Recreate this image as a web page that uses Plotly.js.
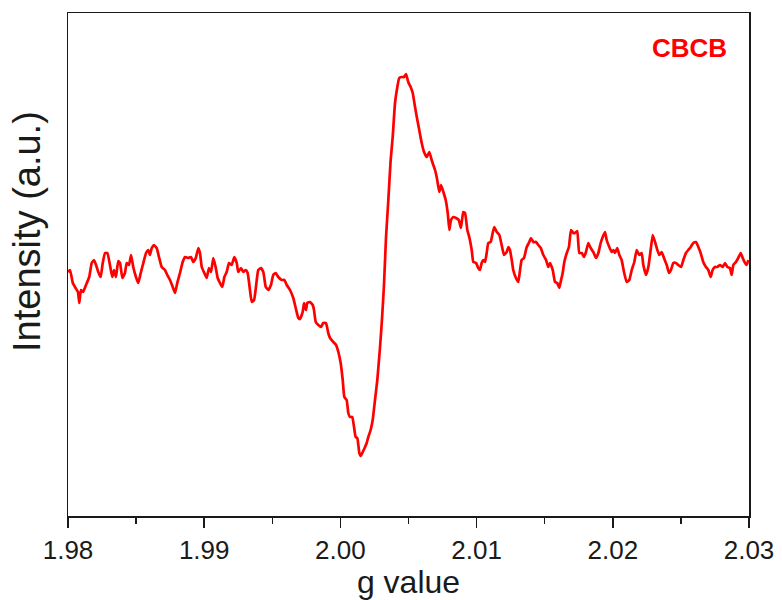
<!DOCTYPE html>
<html>
<head>
<meta charset="utf-8">
<script src="https://cdn.plot.ly/plotly-3.0.1.min.js"></script>
<style>
  html, body { margin: 0; padding: 0; background: #ffffff; }
  #chart { width: 782px; height: 600px; }
</style>
</head>
<body>
<div id="chart"></div>
<script>
// EPR spectrum of the CBCB sample: intensity (arbitrary units) against g value
const sampleName = "CBCB";

const gValues = [
  1.98000, 1.98015, 1.98035, 1.98051, 1.98073, 1.98083, 1.98095, 1.98110, 1.98132, 1.98156,
  1.98174, 1.98191, 1.98206, 1.98222, 1.98240, 1.98255, 1.98272, 1.98289, 1.98308, 1.98325,
  1.98338, 1.98352, 1.98369, 1.98382, 1.98399, 1.98418, 1.98431, 1.98448, 1.98463, 1.98479,
  1.98499, 1.98516, 1.98534, 1.98553, 1.98573, 1.98590, 1.98602, 1.98615, 1.98631, 1.98651,
  1.98668, 1.98688, 1.98712, 1.98729, 1.98749, 1.98769, 1.98786, 1.98802, 1.98822, 1.98842,
  1.98859, 1.98883, 1.98903, 1.98920, 1.98938, 1.98957, 1.98969, 1.98982, 1.99001, 1.99018,
  1.99035, 1.99050, 1.99067, 1.99084, 1.99099, 1.99116, 1.99133, 1.99148, 1.99165, 1.99182,
  1.99202, 1.99221, 1.99239, 1.99250, 1.99270, 1.99287, 1.99305, 1.99319, 1.99336, 1.99349,
  1.99366, 1.99380, 1.99397, 1.99417, 1.99434, 1.99452, 1.99471, 1.99490, 1.99507, 1.99525,
  1.99544, 1.99569, 1.99588, 1.99606, 1.99630, 1.99654, 1.99672, 1.99691, 1.99703, 1.99723,
  1.99733, 1.99747, 1.99757, 1.99777, 1.99797, 1.99806, 1.99819, 1.99838, 1.99858, 1.99874,
  1.99894, 1.99911, 1.99924, 1.99948, 1.99968, 1.99985, 2.00002, 2.00017, 2.00029, 2.00046,
  2.00058, 2.00070, 2.00087, 2.00100, 2.00112, 2.00124, 2.00139, 2.00149, 2.00164, 2.00181,
  2.00193, 2.00205, 2.00222, 2.00237, 2.00254, 2.00271, 2.00291, 2.00305, 2.00320, 2.00335,
  2.00352, 2.00369, 2.00384, 2.00401, 2.00418, 2.00432, 2.00450, 2.00467, 2.00482, 2.00498,
  2.00516, 2.00531, 2.00548, 2.00565, 2.00579, 2.00597, 2.00614, 2.00634, 2.00653, 2.00670,
  2.00682, 2.00695, 2.00711, 2.00726, 2.00739, 2.00756, 2.00773, 2.00788, 2.00800, 2.00812,
  2.00829, 2.00849, 2.00869, 2.00885, 2.00902, 2.00915, 2.00932, 2.00946, 2.00964, 2.00976,
  2.00996, 2.01012, 2.01025, 2.01037, 2.01049, 2.01062, 2.01074, 2.01086, 2.01103, 2.01118,
  2.01130, 2.01148, 2.01167, 2.01184, 2.01201, 2.01221, 2.01233, 2.01245, 2.01258, 2.01269,
  2.01289, 2.01306, 2.01319, 2.01331, 2.01348, 2.01368, 2.01387, 2.01399, 2.01416, 2.01436,
  2.01453, 2.01471, 2.01490, 2.01510, 2.01526, 2.01539, 2.01559, 2.01576, 2.01592, 2.01607,
  2.01617, 2.01632, 2.01644, 2.01662, 2.01678, 2.01693, 2.01710, 2.01722, 2.01739, 2.01754,
  2.01772, 2.01789, 2.01803, 2.01820, 2.01838, 2.01857, 2.01877, 2.01894, 2.01911, 2.01926,
  2.01943, 2.01955, 2.01974, 2.01992, 2.02004, 2.02016, 2.02033, 2.02048, 2.02065, 2.02082,
  2.02102, 2.02121, 2.02139, 2.02158, 2.02175, 2.02195, 2.02212, 2.02224, 2.02244, 2.02261,
  2.02278, 2.02293, 2.02310, 2.02327, 2.02341, 2.02359, 2.02376, 2.02396, 2.02413, 2.02427,
  2.02444, 2.02464, 2.02481, 2.02501, 2.02518, 2.02537, 2.02554, 2.02572, 2.02591, 2.02611,
  2.02628, 2.02645, 2.02664, 2.02684, 2.02701, 2.02719, 2.02733, 2.02750, 2.02767, 2.02787,
  2.02807, 2.02824, 2.02841, 2.02860, 2.02873, 2.02885, 2.02904, 2.02921, 2.02939, 2.02954,
  2.02971, 2.02983, 2.02995
];

const intensity = [
   -7,  -5, -18, -22, -27, -38, -25, -27, -20, -12,
    2,   5,   0,  -7, -12,   2,  12,  12,   0, -12,
   -5, -12,   4,   2, -13,  -8,   2,   0,  10,  -2,
  -12, -18,  -8,   2,  12,  15,  10,  17,  20,  17,
    8,  -2,  -5, -10, -15, -22, -28, -18,  -8,   3,
    8,   7,   8,   3,   7,  17,  12,  -2,  -8, -13,
   -3,  -7,   7,  -2, -13, -18, -22, -12,  -7,   2,
    0,   8,   2,  -7,  -3,  -7,  -5,  -8, -25, -37,
  -35, -22,  -5,  -3,  -7, -22, -25, -20, -10,  -8,
  -12, -15, -15, -20, -25, -33, -43, -53, -54, -47,
  -38, -45, -38, -37, -40, -45, -57, -60, -62, -58,
  -58, -68, -73, -77, -80, -87, -98, -115, -132, -135,
  -148, -152, -152, -162, -172, -173, -188, -191, -187, -182,
  -178, -172, -165, -155, -135, -115, -82, -55, -20,  28,
   65, 105, 128, 162, 178, 187, 188, 188, 191, 183,
  178, 172, 158, 145, 135, 122, 113, 108, 113, 105,
  100,  95,  85,  73,  80,  73,  65,  52,  35,  45,
   48,  47,  45,  37,  53,  52,  35,  28,  15,   3,
    2,  -3,  -5,   2,   5,   3,  12,  22,  23,  32,
   38,  33,  30,  20,  10,  13,  18,  15,   5,  -5,
  -13, -17,  -5,   5,   7,  18,  23,  27,  23,  23,
   20,  17,  10,   5,  -2,   2,  -5, -17, -18, -23,
  -17,  -8,   3,  12,  18,  35,  32,  32,  34,  12,
   12,   8,  13,  22,  17,  13,   7,  12,  22,  28,
   33,  25,  18,  13,  15,  12,  17,  10,   5,  -7,
  -17, -15,  -5,   3,  15,  10,  12,   0, -10,  -2,
   15,  30,  23,  15,  10,  13,   7,   0,  -8,  -5,
    2,   2,   0,  -2,   5,  12,  15,  18,  22,  23,
   18,  12,   3,  -2,  -5, -12,  -5,  -2,  -2,   0,
   -2,   2,  -2,  -3, -10,   0,   3,   7,  12,   7,
    2,   0,   5
];

const gTickVals = [1.98, 1.99, 2.00, 2.01, 2.02, 2.03];
const gTickText = ["1.98", "1.99", "2.00", "2.01", "2.02", "2.03"];

const fontFamily = "Arial, 'Liberation Sans', sans-serif";
const axisColor = "#1a1a1a";

const trace = {
  x: gValues,
  y: intensity,
  type: "scatter",
  mode: "lines",
  line: { color: "#ff0000", width: 2.7, shape: "spline", smoothing: 0.4 },
  hoverinfo: "x+y"
};

const layout = {
  width: 782,
  height: 600,
  margin: { l: 68, r: 33, t: 13, b: 84, pad: 0 },
  paper_bgcolor: "#ffffff",
  plot_bgcolor: "#ffffff",
  showlegend: false,
  font: { family: fontFamily, color: "#1a1a1a" },
  xaxis: {
    range: [1.98, 2.03],
    tickmode: "array",
    tickvals: gTickVals,
    ticktext: gTickText,
    ticks: "outside",
    ticklen: 10,
    tickwidth: 1.5,
    tickcolor: axisColor,
    tickfont: { family: fontFamily, size: 26, color: "#1a1a1a" },
    minor: { dtick: 0.005, tick0: 1.98, ticks: "outside", ticklen: 6, tickwidth: 1.5, tickcolor: axisColor, showgrid: false },
    showline: true,
    linecolor: axisColor,
    linewidth: 1.5,
    mirror: true,
    showgrid: false,
    zeroline: false,
    title: { text: "g value", font: { family: fontFamily, size: 32, color: "#1a1a1a" }, standoff: 4 }
  },
  yaxis: {
    range: [-251, 252],
    showticklabels: false,
    ticks: "",
    showline: true,
    linecolor: axisColor,
    linewidth: 1.5,
    mirror: true,
    showgrid: false,
    zeroline: false
  },
  annotations: [
    {
      // y-axis title, placed as rotated text
      text: "Intensity (a.u.)",
      xref: "paper", yref: "paper",
      x: -0.06, y: 0.565,
      xanchor: "center", yanchor: "middle",
      textangle: -90,
      showarrow: false,
      font: { family: fontFamily, size: 38, color: "#1a1a1a" }
    },
    {
      text: "<b>" + sampleName + "</b>",
      xref: "paper", yref: "paper",
      x: 0.913, y: 0.931,
      xanchor: "center", yanchor: "middle",
      showarrow: false,
      font: { family: fontFamily, size: 26, color: "#ff0000" }
    }
  ]
};

Plotly.newPlot("chart", [trace], layout, { displayModeBar: false, staticPlot: true });
</script>
</body>
</html>
